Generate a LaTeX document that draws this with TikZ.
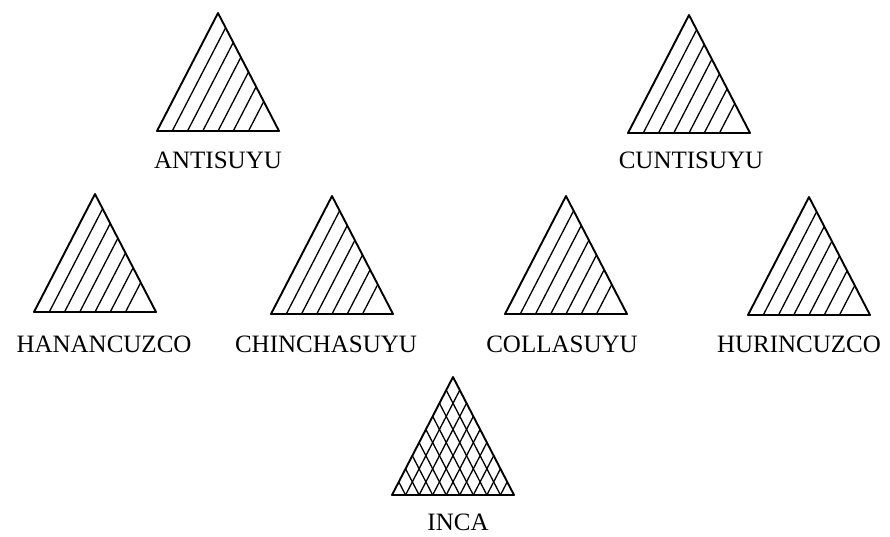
\documentclass[tikz,border=0pt]{standalone}
\usepackage{fontspec}
\setmainfont{Liberation Serif}
\usetikzlibrary{calc}

\begin{document}
\begin{tikzpicture}[
    x=1pt, y=-1pt,
    tri/.style={
        draw,
        line width=1.9pt,
        line join=round
    },
    hatch/.style={
        draw,
        line width=1.3pt
    },
    suyu/.style={
        anchor=base,
        inner sep=0pt,
        font=\fontsize{25}{29}\selectfont
    }
]
    \useasboundingbox (0,0) rectangle (890,536);

    % --- Triangles (apex, base 122 wide, 118 high) ---
    \foreach \id/\ax/\ay in {anti/218/13, cunti/689/15, hanan/95/194, chincha/332/196,
                             colla/566/196, hurin/809/197, inca/453/377} {
        \coordinate (\id-t) at (\ax,\ay);
        \coordinate (\id-l) at (\ax-61,\ay+118);
        \coordinate (\id-r) at (\ax+61,\ay+118);
        \draw [tri] (\id-l) -- (\id-r) -- (\id-t) -- cycle;
    }

    % --- Single hatching, parallel to the left side ---
    \foreach \id in {anti, cunti, hanan, chincha, colla, hurin}
        \foreach \k in {1,...,6}
            \draw [hatch] ($(\id-l)!\k/8!(\id-r)$) -- ($(\id-r)!{1-\k/8}!(\id-t)$);

    % --- Cross hatching for the Inca ---
    \foreach \k in {1,...,8} {
        \draw [hatch] ($(inca-l)!\k/9!(inca-r)$) -- ($(inca-r)!{1-\k/9}!(inca-t)$);
        \draw [hatch] ($(inca-l)!\k/9!(inca-r)$) -- ($(inca-l)!\k/9!(inca-t)$);
    }

    % --- Names ---
    \node [suyu] (anti-name) at (218,168) {ANTISUYU};
    \node [suyu] (cunti-name) at (691,168) {CUNTISUYU};
    \node [suyu] (hanan-name) at (104,352) {HANANCUZCO};
    \node [suyu] (chincha-name) at (326,352) {CHINCHASUYU};
    \node [suyu] (colla-name) at (562,352) {COLLASUYU};
    \node [suyu] (hurin-name) at (799,352) {HURINCUZCO};
    \node [suyu] (inca-name) at (458,530) {INCA};

\end{tikzpicture}
\end{document}
